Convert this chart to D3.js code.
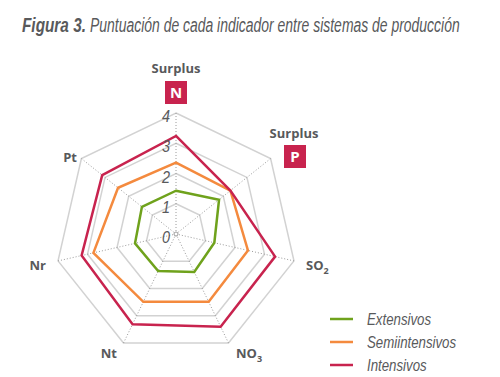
<!DOCTYPE html>
<html>
<head>
<meta charset="utf-8">
<script src="https://cdn.jsdelivr.net/npm/d3@7"></script>
<style>
  body { margin: 0; background: #fff; }
  text { font-family: "Liberation Sans", "Open Sans", sans-serif; }
</style>
</head>
<body>
<script>
var w = 500;
var h = 377;

// indicadores, en el sentido de las agujas del reloj desde arriba
var axes = ["Surplus N", "Surplus P", "SO2", "NO3", "Nt", "Nr", "Pt"];
var series = ["Extensivos", "Semiintensivos", "Intensivos"];
var extensivos = [1.43, 1.82, 1.30, 1.39, 1.36, 1.39, 1.44];
var semiintensivos = [2.36, 2.30, 2.44, 2.49, 2.49, 2.80, 2.45];
var intensivos = [3.24, 2.30, 3.36, 3.40, 3.31, 3.20, 3.12];
var ticks = [0, 1, 2, 3, 4];
var colors = ["#6fa21c", "#f48a3e", "#c8234e"];

var data = [extensivos, semiintensivos, intensivos];

var cx = 176, cy = 234;
var r = d3.scaleLinear().domain([0, 4]).range([0, 121]);
var angle = function(i) { return i * 2 * Math.PI / axes.length; };
var px = function(i, v) { return cx + Math.sin(angle(i)) * r(v); };
var py = function(i, v) { return cy - Math.cos(angle(i)) * r(v); };

var svg = d3.select("body")
  .append("svg")
  .attr("width", w)
  .attr("height", h);

// titulo (letra condensada: se estrecha hasta el ancho del original)
function squeezed(x, y, width, bold, txt) {
  var t = svg.append("text")
    .style("font-size", "21px")
    .style("font-style", "italic")
    .style("font-weight", bold ? "bold" : "normal")
    .style("fill", "#58595b")
    .text(txt);
  var len = t.node().getComputedTextLength();
  t.attr("transform", "translate(" + x + "," + y + ") scale(" + (width / len) + ",1)");
}

squeezed(22, 32, 64, true, "Figura 3.");
squeezed(90, 32, 370, false, "Puntuación de cada indicador entre sistemas de producción");

// rejilla
var gridLine = d3.line()
  .x(function(d) { return px(d[0], d[1]); })
  .y(function(d) { return py(d[0], d[1]); })
  .curve(d3.curveLinearClosed);

svg.selectAll(".grid")
  .data(ticks.slice(1))
  .enter()
  .append("path")
  .attr("class", "grid")
  .attr("d", function(t) {
    return gridLine(axes.map(function(a, i) { return [i, t]; }));
  })
  .attr("fill", "none")
  .attr("stroke", "#d2d2d2")
  .attr("stroke-width", 1.5);

svg.selectAll(".spoke")
  .data(axes)
  .enter()
  .append("line")
  .attr("class", "spoke")
  .attr("x1", cx)
  .attr("y1", cy)
  .attr("x2", function(d, i) { return px(i, 4); })
  .attr("y2", function(d, i) { return py(i, 4); })
  .attr("stroke", "#9a9a9a")
  .attr("stroke-width", 1)
  .attr("stroke-dasharray", "1,2");

svg.append("circle")
  .attr("cx", cx)
  .attr("cy", cy)
  .attr("r", 2)
  .attr("fill", "#fff")
  .attr("stroke", "#9a9a9a");

// series
var valueLine = d3.line()
  .x(function(d, i) { return px(i, d); })
  .y(function(d, i) { return py(i, d); })
  .curve(d3.curveLinearClosed);

svg.selectAll(".serie")
  .data(data)
  .enter()
  .append("path")
  .attr("class", "serie")
  .attr("d", valueLine)
  .attr("fill", "none")
  .attr("stroke", function(d, i) { return colors[i]; })
  .attr("stroke-width", 2.5)
  .attr("stroke-linejoin", "miter");

// etiquetas de escala
svg.selectAll(".tick")
  .data(ticks)
  .enter()
  .append("text")
  .attr("class", "tick")
  .attr("transform", function(d) {
    return "translate(" + (cx - 6) + "," + (cy - r(d) + 9) + ") scale(0.85,1)";
  })
  .attr("text-anchor", "end")
  .style("font-size", "17px")
  .style("font-style", "italic")
  .style("fill", "#58595b")
  .text(function(d) { return d; });

// etiquetas de ejes
function label(x, y, anchor, main, sub) {
  var t = svg.append("text")
    .attr("x", x)
    .attr("y", y)
    .attr("text-anchor", anchor)
    .style("font-family", "'Open Sans', sans-serif")
    .style("font-size", "13px")
    .style("font-weight", "bold")
    .style("fill", "#58595b")
    .text(main);
  if (sub) {
    t.append("tspan")
      .attr("dy", 4)
      .style("font-size", "9px")
      .text(sub);
  }
}

function badge(x, y, letter) {
  svg.append("rect")
    .attr("x", x - 11)
    .attr("y", y)
    .attr("width", 22)
    .attr("height", 23)
    .attr("fill", "#c8234e");
  svg.append("text")
    .attr("x", x)
    .attr("y", y + 17)
    .attr("text-anchor", "middle")
    .style("font-family", "'Open Sans', sans-serif")
    .style("font-size", "15px")
    .style("font-weight", "bold")
    .style("fill", "#fff")
    .text(letter);
}

label(176, 73, "middle", "Surplus");
badge(176, 81, "N");
label(294, 138, "middle", "Surplus");
badge(295, 145, "P");
label(306, 270, "start", "SO", "2");
label(236, 358, "start", "NO", "3");
label(117, 358, "end", "Nt");
label(46, 270, "end", "Nr");
label(77, 162, "end", "Pt");

// leyenda
var legend = svg.selectAll(".legend")
  .data(series)
  .enter()
  .append("g")
  .attr("class", "legend")
  .attr("transform", function(d, i) { return "translate(330," + (319 + i * 23) + ")"; });

legend.append("line")
  .attr("x1", 0)
  .attr("x2", 23)
  .attr("stroke", function(d, i) { return colors[i]; })
  .attr("stroke-width", 2.5);

legend.append("text")
  .attr("transform", "translate(37,6) scale(0.78,1)")
  .style("font-size", "17px")
  .style("font-style", "italic")
  .style("fill", "#58595b")
  .text(function(d) { return d; });
</script>
</body>
</html>
